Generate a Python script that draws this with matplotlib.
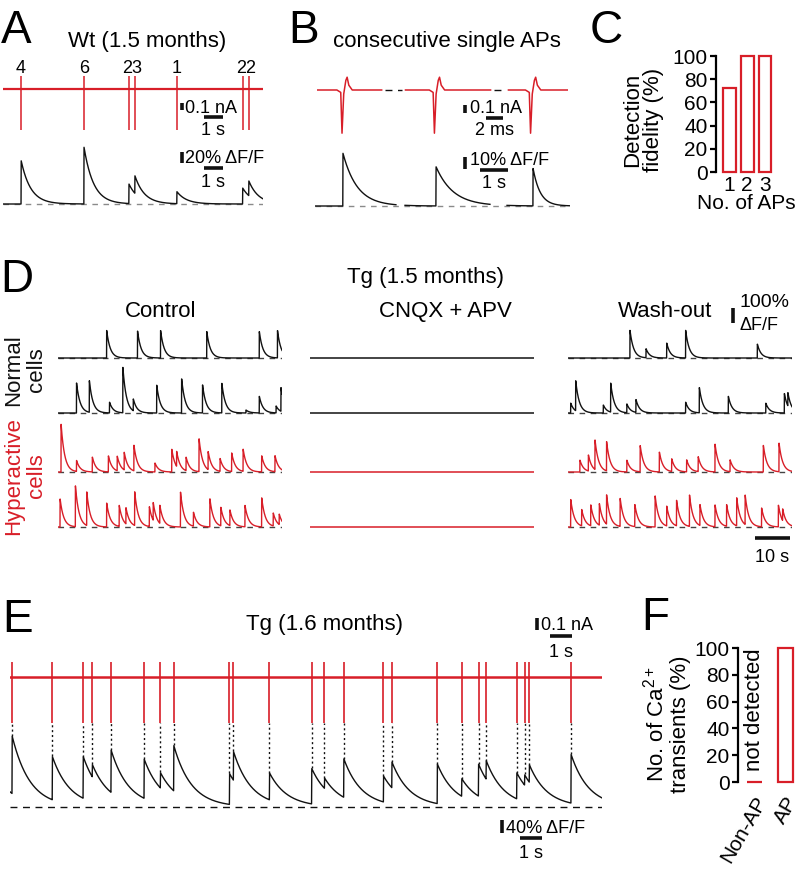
import matplotlib
matplotlib.use("Agg")
import matplotlib.pyplot as plt
import numpy as np

plt.rcParams["font.family"] = ["Liberation Sans", "DejaVu Sans"]
plt.rcParams["mathtext.fontset"] = "custom"
plt.rcParams["mathtext.rm"] = "Liberation Sans"
plt.rcParams["mathtext.it"] = "Liberation Sans:italic"
plt.rcParams["mathtext.bf"] = "Liberation Sans:bold"

RED = "#d81e28"
BLACK = "#111111"
GREY = "#8a8a8a"
W, H = 806, 869

# ---- A: Wt, 1.5 months ----
A_SPAN = 13.7                       # s
A_SPIKES = [0.95, 4.26, 6.63, 6.95, 9.16, 12.63, 12.95]
A_SPIKE_UP, A_SPIKE_DOWN = 0.19, -0.59   # nA
A_GROUP_TIMES = [0.95, 4.26, 6.79, 9.16, 12.79]
A_GROUP_LABELS = ["4", "6", "23", "1", "22"]
A_CA_AMPS = [80, 105, 36, 32, 22, 29, 27]   # % dF/F
A_TAU = 0.5

# ---- B: consecutive single APs ----
B_SEGS_MS = [(0.0, 7.6), (10.4, 20.4), (22.5, 29.5)]
B_SPIKES_MS = [2.94, 13.8, 25.1]
B_AP_DT = [-0.6, -0.15, 0.0, 0.2, 0.45, 0.6, 0.8, 1.2]          # ms
B_AP_NA = [0.0, -0.03, -0.54, -0.05, 0.12, 0.16, 0.06, 0.0]    # nA
B_CA_SEGS = [(0.0, 2.84), (3.16, 6.14), (6.74, 8.95)]
B_CA_ONSETS = [0.98, 4.25, 7.65]
B_CA_AMPS = [46, 34, 33]
B_CA_TAU = [0.5, 0.6, 0.25]

# ---- C: detection fidelity ----
C_APS = ["1", "2", "3"]
C_FIDELITY = [72, 100, 100]

# ---- D: Tg, 1.5 months (onsets in s, amplitudes in % dF/F) ----
D_SPAN = 64
D_TAU = 1.0
D_COLUMNS = ["Control", "CNQX + APV", "Wash-out"]
D_CTRL_ONSETS = [
    [13.9, 22.7, 29.3, 42.5, 57.5, 62.7],
    [5.3, 8.95, 14.7, 18.5, 21.5, 28.2, 35.3, 41.3, 46.8, 53.7, 57.5, 62.3, 63.7],
    [0.86, 5.3, 9.8, 14.4, 16.9, 18.9, 21.7, 27.7, 32.5, 33.9, 36.6, 40.3, 42.9,
     46.3, 49.6, 52.9, 58.2, 62.0],
    [0.57, 4.95, 8.2, 13.9, 17.5, 19.4, 21.9, 26.1, 27.2, 29.1, 35.0, 38.7, 43.4,
     46.5, 49.1, 53.4, 58.2, 61.5, 63.2],
]
D_CTRL_AMPS = [
    [185, 185, 185, 178, 180, 185],
    [200, 213, 73, 313, 80, 187, 233, 187, 200, 20, 113, 47, 160],
    [327, 73, 100, 107, 100, 120, 170, 60, 153, 100, 90, 220, 120, 87, 127, 147, 107, 107],
    [193, 280, 227, 160, 140, 110, 227, 133, 120, 120, 233, 93, 187, 127, 107, 147, 193, 87, 70],
]
D_WASH_ONSETS = [
    [17.7, 22.3, 28.2, 33.6, 54.1],
    [0.76, 2.2, 10.1, 12.2, 16.8, 19.4, 33.6, 37.5, 45.8, 56.5, 61.8, 62.8],
    [3.4, 5.8, 7.7, 11.0, 16.8, 20.6, 26.1, 29.6, 33.9, 37.2, 42.0, 46.3, 55.8, 60.3],
    [0.76, 3.9, 6.5, 8.95, 11.0, 14.9, 19.1, 24.9, 28.2, 31.0, 34.7, 37.7, 42.0,
     45.3, 48.2, 50.6, 55.3, 60.1, 61.3],
]
D_WASH_AMPS = [
    [187, 60, 100, 187, 93],
    [67, 200, 53, 193, 60, 87, 73, 173, 113, 67, 133, 90],
    [80, 110, 200, 200, 80, 180, 133, 87, 80, 100, 187, 80, 180, 190],
    [187, 110, 140, 145, 200, 187, 147, 207, 133, 173, 213, 140, 147, 147, 187, 200, 127, 147, 80],
]
D_ROW_COLORS = [BLACK, BLACK, RED, RED]

# ---- E: Tg, 1.6 months ----
E_SPAN = 26.9
E_SPIKES = [0.1, 1.92, 3.33, 3.74, 4.59, 6.09, 6.83, 7.44, 9.97, 10.15, 11.79,
            13.71, 14.29, 15.17, 16.97, 17.35, 19.42, 20.53, 21.29, 21.64,
            23.03, 23.38, 23.6, 25.49]
E_CA_AMPS = [170, 129, 123, 37, 126, 117, 46, 135, 92, 86, 80, 105, 31, 114,
             77, 77, 117, 52, 95, 55, 77, 31, 52, 145]
E_CA_START = 45
E_TAU = 0.8
E_SPIKE_UP, E_SPIKE_DOWN = 0.125, -0.383

# ---- F ----
F_GROUPS = ["Non-AP", "AP"]
F_PERCENT = [0, 100]


fig = plt.figure(figsize=(W / 100, H / 100), dpi=100)


def px_axes(x0, x1, top, bottom):
    return fig.add_axes([x0 / W, 1 - bottom / H, (x1 - x0) / W, (bottom - top) / H])


def trace_axes(x0, x1, top, bottom, base, span, px_per_unit):
    ax = px_axes(x0, x1, top, bottom)
    ax.set_xlim(0, span)
    ax.set_ylim(-(bottom - base) / px_per_unit, (base - top) / px_per_unit)
    ax.set_axis_off()
    return ax


def ftext(x, y, s, **kw):
    return fig.text(x / W, 1 - y / H, s, **kw)


def calcium(t, onsets, amps, tau):
    taus = np.broadcast_to(tau, (len(onsets),))
    y = np.zeros_like(t, dtype=float)
    for t0, a, tt in zip(onsets, amps, taus):
        after = t >= t0
        y[after] += a * np.exp(-(t[after] - t0) / tt)
    return y


def bar_line(ax, xs, ys, lw=2.6):
    ax.plot(xs, ys, color=BLACK, lw=lw, solid_capstyle="butt", clip_on=False)


def panel_letter(x, y, s):
    ftext(x, y, s, fontsize=33, ha="left", va="baseline")


# ================= A =================
panel_letter(1, 43, "A")
ftext(147, 47, "Wt (1.5 months)", fontsize=16, ha="center", va="baseline")

ax = trace_axes(3, 263, 70, 135, 89, A_SPAN, 70)
ax.plot([0, A_SPAN], [0, 0], color=RED, lw=1.6)
ax.vlines(A_SPIKES, A_SPIKE_DOWN, A_SPIKE_UP, color=RED, lw=1.1)
for tg, lab in zip(A_GROUP_TIMES, A_GROUP_LABELS):
    ax.text(tg, 0.229, lab, fontsize=13, ha="center", va="baseline")
bar_line(ax, [9.42, 9.42], [-0.2, -0.3])
ax.text(9.6, -0.343, "0.1 nA", fontsize=13, ha="left", va="baseline")
bar_line(ax, [10.58, 11.58], [-0.4, -0.4])
ax.text(11.08, -0.657, "1 s", fontsize=13, ha="center", va="baseline")

ax = trace_axes(3, 263, 140, 212, 204, A_SPAN, 0.55)
t = np.linspace(0, A_SPAN, 1400)
ax.plot([0, A_SPAN], [0, 0], color=GREY, lw=1, ls=(0, (4, 4)))
ax.plot(t, calcium(t, A_SPIKES, A_CA_AMPS, A_TAU), color=BLACK, lw=1)
bar_line(ax, [9.42, 9.42], [74.5, 94.5])
ax.text(9.6, 74.5, "20% ΔF/F", fontsize=13, ha="left", va="baseline")
bar_line(ax, [10.58, 11.58], [65.5, 65.5])
ax.text(11.08, 30.9, "1 s", fontsize=13, ha="center", va="baseline")

# ================= B =================
panel_letter(288, 43, "B")
ftext(447, 47, "consecutive single APs", fontsize=16, ha="center", va="baseline")

ax = trace_axes(317, 568, 70, 136, 90, 29.5, 80)
for (s0, s1), sp in zip(B_SEGS_MS, B_SPIKES_MS):
    ts = [s0] + [sp + d for d in B_AP_DT] + [s1]
    vs = [0.0] + B_AP_NA + [0.0]
    ax.plot(ts, vs, color=RED, lw=1.1)
for (_, e0), (s1, _) in zip(B_SEGS_MS[:-1], B_SEGS_MS[1:]):
    ax.plot([e0 + 0.4, s1 - 0.4], [0, 0], color=BLACK, lw=1, ls=(0, (5, 4)))
bar_line(ax, [17.4, 17.4], [-0.1875, -0.2875])
ax.text(18.0, -0.2875, "0.1 nA", fontsize=13, ha="left", va="baseline")
bar_line(ax, [19.9, 21.9], [-0.35, -0.35])
ax.text(20.9, -0.5625, "2 ms", fontsize=13, ha="center", va="baseline")

ax = trace_axes(315, 570, 140, 214, 206, 8.95, 1.15)
ax.plot([0, 8.95], [0, 0], color=GREY, lw=1, ls=(0, (4, 4)))
for s0, s1 in B_CA_SEGS:
    t = np.linspace(s0, s1, 400)
    ax.plot(t, calcium(t, B_CA_ONSETS, B_CA_AMPS, B_CA_TAU), color=BLACK, lw=1)
bar_line(ax, [5.26, 5.26], [32.2, 42.2])
ax.text(5.45, 35.5, "10% ΔF/F", fontsize=13, ha="left", va="baseline")
bar_line(ax, [5.79, 6.79], [31.0, 31.0])
ax.text(6.29, 15.7, "1 s", fontsize=13, ha="center", va="baseline")

# ================= C =================
panel_letter(590, 43, "C")
ax = px_axes(716, 776, 56, 172)
xc = np.arange(1, len(C_APS) + 1)
ax.bar(xc, C_FIDELITY, width=0.73, fill=False, edgecolor=RED, lw=1.6, clip_on=False)
ax.set_xlim(0.24, 3.62)
ax.set_ylim(0, 100)
for side in ["top", "right", "bottom"]:
    ax.spines[side].set_visible(False)
ax.spines["left"].set_linewidth(1.6)
ax.set_yticks(np.arange(0, 101, 20))
ax.set_xticks(xc, C_APS)
ax.tick_params(axis="y", length=4, width=1.6, labelsize=15, pad=2)
ax.tick_params(axis="x", length=0, labelsize=15, pad=3)
ax.set_xlabel("No. of APs", fontsize=15, labelpad=-1)
ftext(643, 120, "Detection\nfidelity (%)", fontsize=16, rotation=90,
      ha="center", va="center", linespacing=0.95)

# ================= D =================
panel_letter(0, 292, "D")
ftext(425, 283, "Tg (1.5 months)", fontsize=16, ha="center", va="baseline")
col_x0 = [58, 310, 568]
col_names_x = [161, 445, 665]
for name, xn in zip(D_COLUMNS, col_names_x):
    ftext(xn, 317, name, fontsize=16, ha="center", va="baseline")
ftext(25, 370, "Normal\ncells", fontsize=16, rotation=90, ha="center", va="center",
      linespacing=1.15, color=BLACK)
ftext(25, 476, "Hyperactive\ncells", fontsize=16, rotation=90, ha="center", va="center",
      linespacing=1.15, color=RED)

row_base = [358, 413, 472, 527]
t = np.linspace(0, D_SPAN, 1800)
d_axes = {}
for r, base in enumerate(row_base):
    col = D_ROW_COLORS[r]
    for c, x0 in enumerate(col_x0):
        ax = trace_axes(x0, x0 + 224, base - 56, base + 8, base, D_SPAN, 0.15)
        d_axes[(r, c)] = ax
        if c == 1:
            ax.plot([0, D_SPAN], [0, 0], color=col, lw=1.1)
            continue
        onsets = D_CTRL_ONSETS[r] if c == 0 else D_WASH_ONSETS[r]
        amps = D_CTRL_AMPS[r] if c == 0 else D_WASH_AMPS[r]
        ax.plot([0, D_SPAN], [0, 0], color="#444444", lw=1, ls=(0, (4, 4)))
        ax.plot(t, calcium(t, onsets, amps, D_TAU), color=col, lw=1)

ax = d_axes[(0, 2)]
bar_line(ax, [47.1, 47.1], [233, 333])
ax.text(49.1, 340, "100%", fontsize=14, ha="left", va="baseline")
ax.text(49.1, 187, "ΔF/F", fontsize=13, ha="left", va="baseline")
ax = d_axes[(3, 2)]
bar_line(ax, [53.4, 63.4], [-73, -73])
ax.text(58.4, -233, "10 s", fontsize=13, ha="center", va="baseline")

# ================= E =================
panel_letter(2, 632, "E")
ftext(325, 630, "Tg (1.6 months)", fontsize=16, ha="center", va="baseline")

ax = trace_axes(10, 602, 655, 723, 677, E_SPAN, 120)
ax.plot([0, E_SPAN], [0, 0], color=RED, lw=1.8)
ax.vlines(E_SPIKES, E_SPIKE_DOWN, E_SPIKE_UP, color=RED, lw=1.2)
bar_line(ax, [23.95, 23.95], [0.392, 0.492])
ax.text(24.15, 0.392, "0.1 nA", fontsize=13, ha="left", va="baseline")
bar_line(ax, [24.55, 25.55], [0.342, 0.342])
ax.text(25.05, 0.167, "1 s", fontsize=13, ha="center", va="baseline")

ax = trace_axes(10, 602, 723, 815, 807, E_SPAN, 0.3375)
t = np.linspace(0, E_SPAN, 2400)
ca = E_CA_START * np.exp(-t / E_TAU) + calcium(t, E_SPIKES, E_CA_AMPS, E_TAU)
ax.plot([0, E_SPAN], [0, 0], color=BLACK, lw=1, ls=(0, (5, 4)))
ax.plot(t, ca, color=BLACK, lw=1)
sp = np.array(E_SPIKES)
peaks = E_CA_START * np.exp(-sp / E_TAU) + calcium(sp, E_SPIKES, E_CA_AMPS, E_TAU)
ax.vlines(E_SPIKES, peaks, ax.get_ylim()[1], color=BLACK, lw=1, linestyles=(0, (1.5, 2)))
bar_line(ax, [22.36, 22.36], [-38.5, -78.5])
ax.text(22.55, -77, "40% ΔF/F", fontsize=13, ha="left", va="baseline")
bar_line(ax, [23.18, 24.18], [-92, -92])
ax.text(23.68, -151, "1 s", fontsize=13, ha="center", va="baseline")

# ================= F =================
panel_letter(641, 630, "F")
ax = px_axes(738, 800, 648, 782)
xf = np.arange(len(F_GROUPS))
ax.bar(xf, F_PERCENT, width=0.5, fill=False, edgecolor=RED, lw=1.6, clip_on=False)
ax.set_xlim(-0.53, 1.47)
ax.set_ylim(0, 100)
for side in ["top", "right", "bottom"]:
    ax.spines[side].set_visible(False)
ax.spines["left"].set_linewidth(1.6)
ax.set_yticks(np.arange(0, 101, 20))
ax.set_xticks([])
ax.tick_params(axis="y", length=4, width=1.6, labelsize=15, pad=2)
for xi, grp, val in zip(xf, F_GROUPS, F_PERCENT):
    ax.text(xi + 0.25, -12, grp, fontsize=15, rotation=60, rotation_mode="anchor",
            ha="right", va="center", clip_on=False)
    if val == 0:
        ax.text(xi, 8, "not detected", fontsize=16, rotation=90, ha="center", va="bottom")
ftext(667, 724, "No. of Ca$^{2+}$\ntransients (%)", fontsize=16, rotation=90,
      ha="center", va="center", linespacing=1.12)

fig.savefig("out.png", dpi=100, facecolor="white")
